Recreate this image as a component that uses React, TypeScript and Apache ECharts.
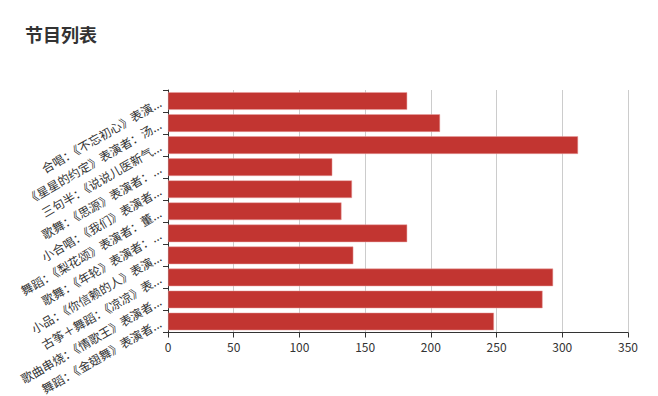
import React, { useEffect, useRef } from "react";
import * as echarts from "echarts";

const titleText = "节目列表";

const programs = [
  "合唱：《不忘初心》表演...",
  "《星星的约定》表演者：汤...",
  "三句半：《说说儿医新气...",
  "歌舞：《思源》表演者：...",
  "小合唱：《我们》表演者...",
  "舞蹈：《梨花颂》表演者：董...",
  "歌舞：《年轮》表演者：...",
  "小品：《你信赖的人》表演...",
  "古筝＋舞蹈：《凉凉》表...",
  "歌曲串烧：《情歌王》表演者...",
  "舞蹈：《金翅舞》表演者...",
];

const votes = [182, 207, 312, 125, 140, 132, 182, 141, 293, 285, 248];

const xTicks = { min: 0, max: 350, interval: 50 };

export default function App() {
  const ref = useRef<HTMLDivElement>(null);
  useEffect(() => {
    if (!ref.current) return;
    const chart = echarts.init(ref.current, undefined, { renderer: "svg" });
    const font = "'Microsoft YaHei', 'Noto Sans CJK SC', sans-serif";
    chart.setOption({
      animation: false,
      textStyle: { fontFamily: font },
      title: {
        text: titleText,
        left: 20,
        top: 20,
        textStyle: { fontSize: 18, fontWeight: "bold", color: "#333", fontFamily: font },
      },
      grid: { left: 168, right: 30, top: 90, bottom: 59 },
      xAxis: {
        type: "value",
        min: xTicks.min,
        max: xTicks.max,
        interval: xTicks.interval,
        axisLine: { show: true, lineStyle: { color: "#333" } },
        axisTick: { show: true, lineStyle: { color: "#333" } },
        axisLabel: { color: "#333", fontSize: 12, margin: 8 },
        splitLine: { show: true, lineStyle: { color: "#ccc" } },
      },
      yAxis: {
        type: "category",
        inverse: true,
        data: programs,
        axisLine: { show: true, lineStyle: { color: "#333" } },
        axisTick: { show: true, lineStyle: { color: "#333" } },
        axisLabel: { color: "#333", fontSize: 12, rotate: 30, margin: 8, interval: 0 },
        splitLine: { show: false },
      },
      series: [
        {
          type: "bar",
          data: votes,
          barCategoryGap: "20%",
          itemStyle: { color: "#c23531", borderColor: "#e8a0a0", borderWidth: 0.5 },
        },
      ],
    });
    return () => chart.dispose();
  }, []);
  return (
    <div
      ref={ref}
      style={{ position: "absolute", left: 0, top: 0, width: 658, height: 396, background: "#fff" }}
    />
  );
}
